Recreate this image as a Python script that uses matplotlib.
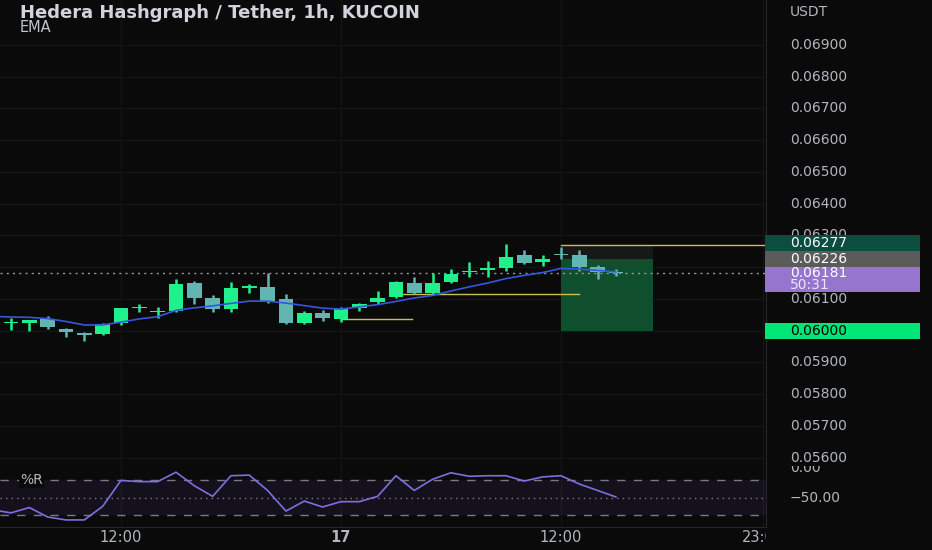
import numpy as np
import matplotlib.pyplot as plt
from matplotlib.patches import Rectangle
from matplotlib.transforms import blended_transform_factory, Bbox, TransformedBbox

# hourly candles, hour 0 = 16th 12:00
hours = np.arange(-6, 28)
opens = [0.06023, 0.06023, 0.06036, 0.06005, 0.05994, 0.05990, 0.06023, 0.06071, 0.06058, 0.06062,
         0.06149, 0.06102, 0.06068, 0.06135, 0.06137, 0.06099, 0.06023, 0.06055, 0.06037, 0.06071,
         0.06089, 0.06107, 0.06151, 0.06120, 0.06154, 0.06184, 0.06191, 0.06196, 0.06238, 0.06215,
         0.06238, 0.06238, 0.06200, 0.06184]
highs = [0.06039, 0.06035, 0.06047, 0.06008, 0.05997, 0.06025, 0.06072, 0.06083, 0.06074, 0.06162,
         0.06156, 0.06112, 0.06152, 0.06147, 0.06181, 0.06115, 0.06063, 0.06065, 0.06076, 0.06088,
         0.06125, 0.06156, 0.06170, 0.06181, 0.06193, 0.06217, 0.06220, 0.06272, 0.06254, 0.06238,
         0.06264, 0.06254, 0.06207, 0.06193]
lows = [0.06002, 0.05999, 0.06005, 0.05979, 0.05968, 0.05986, 0.06018, 0.06058, 0.06039, 0.06060,
        0.06083, 0.06060, 0.06058, 0.06118, 0.06086, 0.06022, 0.06022, 0.06031, 0.06028, 0.06063,
        0.06083, 0.06102, 0.06117, 0.06115, 0.06149, 0.06168, 0.06168, 0.06189, 0.06210, 0.06205,
        0.06225, 0.06189, 0.06163, 0.06173]
closes = [0.06024, 0.06034, 0.06011, 0.05997, 0.05986, 0.06021, 0.06071, 0.06072, 0.06059, 0.06146,
          0.06102, 0.06067, 0.06133, 0.06136, 0.06094, 0.06023, 0.06057, 0.06039, 0.06068, 0.06083,
          0.06102, 0.06154, 0.06118, 0.06149, 0.06178, 0.06185, 0.06192, 0.06233, 0.06214, 0.06226,
          0.06237, 0.06201, 0.06186, 0.06181]

# EMA and Williams %R (one extra hour on the left edge)
ind_hours = np.arange(-7, 28)
ema = [0.06045, 0.06043, 0.06042, 0.06038, 0.06029, 0.06018, 0.06018, 0.06027, 0.06037, 0.06044,
       0.06064, 0.06072, 0.06078, 0.06086, 0.06093, 0.06093, 0.06087, 0.06079, 0.06071, 0.06068,
       0.06075, 0.06082, 0.06092, 0.06103, 0.06111, 0.06125, 0.06138, 0.06150, 0.06164, 0.06174,
       0.06183, 0.06196, 0.06194, 0.06190, 0.06185]
wr = [-71, -76, -67, -83, -88, -88, -65, -21, -23, -23, -7, -30, -48, -13, -12, -38, -73, -56, -66,
      -57, -57, -48, -13, -38, -19, -8, -14, -13, -13, -22, -15, -13, -27, -38, -49]

# drawings
ray_levels = [0.06037, 0.06116, 0.06270]
ray_starts = [12, 15.4, 24]
ray_ends = [15.9, 25, 36]
pos_start, pos_end = 24, 29
pos_entry, pos_target, pos_stop = 0.06226, 0.06000, 0.06270
last_price = 0.06181

# scale labels that are not hidden behind the price boxes
price_ticks = [0.056, 0.057, 0.058, 0.059, 0.061, 0.063, 0.064, 0.065, 0.066, 0.067, 0.068, 0.069]
grid_prices = np.round(np.arange(0.056, 0.0695, 0.001), 3)
x_ticks = [0, 12, 24, 35]
x_labels = ['12:00', '17', '12:00', '23:00']
axis_boxes = [(0.06277, '0.06277', '#0d4d40', 'white'),
              (0.06226, '0.06226', '#5b5b5b', 'white'),
              (0.06000, '0.06000', '#00e676', 'black')]

bg = '#0a0a0a'
grid = '#141414'
txt = '#b2b5be'
up_col = '#1ff08c'
down_col = '#62b6b1'
fs = 10

W, H = 932, 550
fig = plt.figure(figsize=(W / 100, H / 100), dpi=100, facecolor=bg)
pr = 766 / W
ax = fig.add_axes([0, 84 / H, pr, 466 / H], facecolor=bg)
axr = fig.add_axes([0, 23 / H, pr, 61 / H], facecolor=bg)

ymin, ymax = 0.055741, 0.070409
ax.set_xlim(-6.6, 35.19)
ax.set_ylim(ymin, ymax)
axr.set_xlim(-6.6, 35.19)
axr.set_ylim(-100, 3.5)

for a in (ax, axr):
    a.set_xticks([])
    a.set_yticks([])
    for s in ('left', 'top'):
        a.spines[s].set_visible(False)
    for s in ('right', 'bottom'):
        a.spines[s].set_color('#262626')
    for xt in x_ticks:
        a.axvline(xt, color=grid, lw=0.9, zorder=0)
for p in grid_prices:
    ax.axhline(p, color=grid, lw=0.9, zorder=0)

# position tool
ax.fill_between([pos_start, pos_end], pos_target, pos_entry, color='#0f4f2d', lw=0, zorder=1)
ax.fill_between([pos_start, pos_end], pos_entry, pos_stop, color='#151917', lw=0, zorder=1)

# rays
for lv, s, e in zip(ray_levels, ray_starts, ray_ends):
    ax.plot([s, e], [lv, lv], color='#c9c24a', lw=1, zorder=2)

# candles
o = np.array(opens)
c = np.array(closes)
cols = np.where(c > o, up_col, down_col)
ax.vlines(hours, lows, highs, colors=cols, lw=1.8, zorder=3)
ax.bar(hours, np.maximum(np.abs(c - o), 0.00005), bottom=np.minimum(o, c), width=0.8,
       color=cols, lw=0, zorder=4)

ax.plot(ind_hours, ema, color='#3556e0', lw=1.2, zorder=5)
ax.axhline(last_price, color='#9598a1', lw=1, ls=(0, (1.5, 3)), zorder=2)

# williams %R pane
axr.axhspan(-80, -20, color='#7e57c2', alpha=0.1, lw=0)
axr.axhline(-20, color='#787b86', lw=1, ls=(0, (6, 6)))
axr.axhline(-80, color='#787b86', lw=1, ls=(0, (6, 6)))
axr.axhline(-50, color='#787b86', lw=1, ls=(0, (1, 3)))
axr.plot(ind_hours, wr, color='#7e6fe0', lw=1.2)
axr.text(20 / 766, -20, '%R', transform=blended_transform_factory(axr.transAxes, axr.transData),
         color=txt, fontsize=fs, va='center', ha='left',
         bbox=dict(fc=bg, ec='none', pad=1))

# price scale
ty_main = blended_transform_factory(fig.transFigure, ax.transData)
ty_wr = blended_transform_factory(fig.transFigure, axr.transData)
tx_bot = blended_transform_factory(axr.transData, fig.transFigure)
clip_main = TransformedBbox(Bbox([[0, 84 / H], [1, 1]]), fig.transFigure)
clip_wr = TransformedBbox(Bbox([[0, 0], [1, 84 / H]]), fig.transFigure)
clip_x = TransformedBbox(Bbox([[0, 0], [pr, 1]]), fig.transFigure)
lab_x = 790 / W


def clipped(t, box):
    t.set_clip_box(box)
    t.set_clip_on(True)
    return t


for p in price_ticks:
    clipped(fig.text(lab_x, p, f'{p:.5f}', transform=ty_main, color=txt, fontsize=fs,
                     va='center', ha='left', zorder=3), clip_main)
for v, s in zip([0, -50], ['0.00', '\u221250.00']):
    clipped(fig.text(lab_x, v, s, transform=ty_wr, color=txt, fontsize=fs,
                     va='center', ha='left', zorder=3), clip_wr)

px = (ymax - ymin) / 466
for p, s, fc, tc in axis_boxes:
    fig.add_artist(Rectangle((765 / W, p - 8 * px), 155 / W, 16 * px, transform=ty_main,
                             facecolor=fc, lw=0, zorder=4))
    fig.text(lab_x, p, s, transform=ty_main, color=tc, fontsize=fs, va='center', ha='left', zorder=5)

fig.add_artist(Rectangle((765 / W, last_price - 19 * px), 155 / W, 25 * px, transform=ty_main,
                         facecolor='#9575cd', lw=0, zorder=4))
fig.text(lab_x, last_price + 0.5 * px, f'{last_price:.5f}', transform=ty_main, color='white',
         fontsize=fs, va='center', ha='left', zorder=5)
fig.text(lab_x, last_price - 12 * px, '50:31', transform=ty_main, color='#ece6f7',
         fontsize=fs, va='center', ha='left', zorder=5)

# time scale
for xt, s in zip(x_ticks, x_labels):
    clipped(fig.text(xt, 1 - 538 / H, s, transform=tx_bot, color=txt, fontsize=fs + 0.5,
                     fontweight='bold' if s == '17' else 'normal', va='center', ha='center'), clip_x)

fig.text(20 / W, 1 - 13 / H, 'Hedera Hashgraph / Tether, 1h, KUCOIN', color='#d1d4dc',
         fontsize=13, fontweight='bold', va='center', ha='left')
fig.text(20 / W, 1 - 28 / H, 'EMA', color='#c0c3cb', fontsize=fs + 0.5, va='center', ha='left')
fig.text(lab_x, 1 - 12 / H, 'USDT', color=txt, fontsize=fs, va='center', ha='left')

fig.savefig('out.png', dpi=100, facecolor=bg)
